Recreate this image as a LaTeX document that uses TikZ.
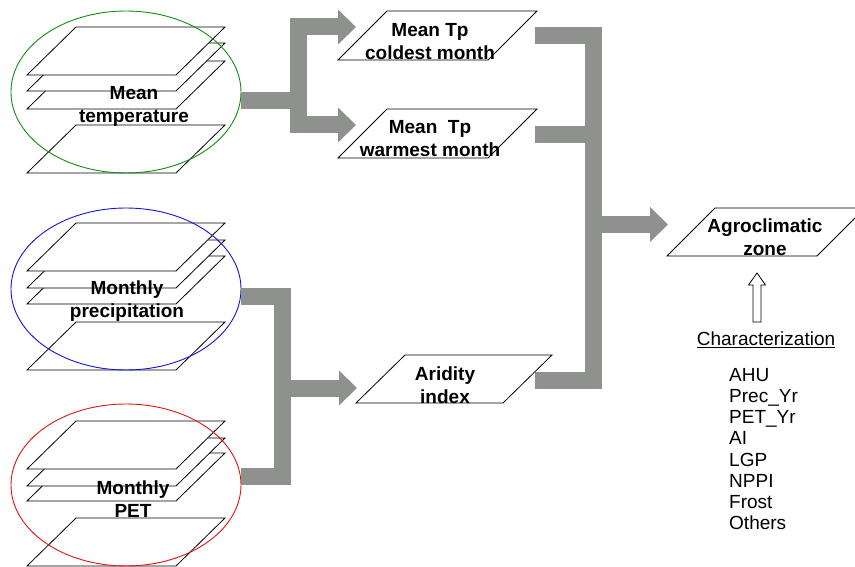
\documentclass[tikz,border=0pt]{standalone}
\usepackage{fontspec}
\setmainfont{Liberation Sans}
\usetikzlibrary{arrows.meta}
\usetikzlibrary{shapes.geometric}
\definecolor{flowgray}{RGB}{142,145,141}
\definecolor{tempgreen}{RGB}{20,140,20}
\definecolor{precblue}{RGB}{20,20,210}
\definecolor{petred}{RGB}{225,20,20}
\tikzset{
  layer/.style={draw=black, fill=white, line width=0.8pt},
  stack/.style={ellipse, draw, line width=0.9pt, minimum width=230pt, minimum height=162pt, inner sep=0pt},
  dataform/.style={draw=black, line width=0.8pt},
  boldtext/.style={font=\fontsize{19}{23}\selectfont\bfseries, align=center, inner sep=0pt},
  flow/.style={draw=flowgray, line width=17pt},
  flowtip/.style={flow, -{Triangle[length=18pt, width=34pt]}}
}

\begin{document}
\begin{tikzpicture}[x=1pt, y=-1pt]
\useasboundingbox (0,0) rectangle (855,567);

\filldraw[layer] (27,173) -- (176,173) -- (225,125) -- (76,125) -- cycle;
\filldraw[layer] (27,109) -- (176,109) -- (225,61) -- (76,61) -- cycle;
\filldraw[layer] (27,91) -- (176,91) -- (225,43) -- (76,43) -- cycle;
\filldraw[layer] (27,75) -- (176,75) -- (225,27) -- (76,27) -- cycle;
\node[stack, draw=tempgreen] (temp) at (126,92) {};

\filldraw[layer] (27,370) -- (176,370) -- (225,322) -- (76,322) -- cycle;
\filldraw[layer] (27,304) -- (176,304) -- (225,256) -- (76,256) -- cycle;
\filldraw[layer] (27,288) -- (176,288) -- (225,240) -- (76,240) -- cycle;
\filldraw[layer] (27,271) -- (176,271) -- (225,223) -- (76,223) -- cycle;
\node[stack, draw=precblue] (prec) at (126,289) {};

\filldraw[layer] (27,566) -- (176,566) -- (225,518) -- (76,518) -- cycle;
\filldraw[layer] (27,501) -- (176,501) -- (225,453) -- (76,453) -- cycle;
\filldraw[layer] (27,486) -- (176,486) -- (225,438) -- (76,438) -- cycle;
\filldraw[layer] (27,469) -- (176,469) -- (225,421) -- (76,421) -- cycle;
\node[stack, draw=petred] (pet) at (126,485) {};

\draw[dataform] (338,60) -- (488,60) -- (537,11) -- (387,11) -- cycle;
\draw[dataform] (338,158) -- (488,158) -- (537,109) -- (387,109) -- cycle;
\draw[dataform] (356,403) -- (503,403) -- (552,355) -- (405,355) -- cycle;
\draw[dataform] (667,256) -- (817,256) -- (865,208) -- (715,208) -- cycle;

\coordinate (tfork) at (298,101);
\coordinate (coldin) at (356,27);
\coordinate (warmin) at (356,125);
\coordinate (pfork) at (282,388);
\coordinate (aridin) at (357,388);
\coordinate (coldout) at (535,36);
\coordinate (warmout) at (535,134.5);
\coordinate (aridout) at (535,380);
\coordinate (rfork) at (593.5,224.5);
\coordinate (agroin) at (668,224.5);
\coordinate (uptip) at (757,273);

\draw[flow] ([yshift=-9pt]temp.east) -- (tfork);
\draw[flowtip] (tfork) |- (coldin);
\draw[flowtip] (tfork) |- (warmin);
\draw[flow] ([yshift=-7pt]prec.east) -| (pfork);
\draw[flow] ([yshift=9pt]pet.east) -| (pfork);
\draw[flowtip] (pfork) -- (aridin);
\draw[flow] (coldout) -| (rfork);
\draw[flow] (aridout) -| (rfork);
\draw[flow] (warmout) -- (warmout -| rfork);
\draw[flowtip] (rfork) -- (agroin);

\node[boldtext] (temptxt) at (134,106) {Mean\\temperature};
\node[boldtext] (prectxt) at (127,301) {Monthly\\precipitation};
\node[boldtext] (pettxt) at (133,499) {Monthly\\PET};
\node[boldtext] (cold) at (430,41.5) {Mean Tp\\coldest month};
\node[boldtext] (warm) at (430,138.5) {Mean\ \ Tp\\warmest month};
\node[boldtext] (arid) at (445,385) {Aridity\\index};
\node[boldtext] (agro) at (765,237.5) {Agroclimatic\\zone};

\draw[layer] (uptip) -- ++(8.5,12) -- ++(-4.5,0) -- ++(0,37) -- ++(-8,0) -- ++(0,-37) -- ++(-4.5,0) -- cycle;
\node[font=\fontsize{19}{22}\selectfont, inner sep=0pt] (charz) at (766,340) {\underline{Characterization}};
\node[font=\fontsize{19}{21.2}\selectfont, align=left, anchor=west, inner sep=0pt] (clist) at (729,449) {AHU\\Prec\_Yr\\PET\_Yr\\AI\\LGP\\NPPI\\Frost\\Others};
\end{tikzpicture}
\end{document}
